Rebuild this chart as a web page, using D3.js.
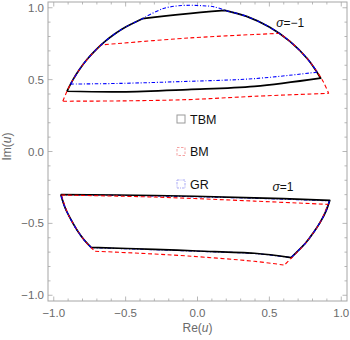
<!DOCTYPE html>
<html><head><meta charset="utf-8">
<script src="https://cdn.jsdelivr.net/npm/d3@7"></script>
<style>
html,body{margin:0;padding:0;background:#fff;}
svg{display:block;font-family:"Liberation Sans",Arial,sans-serif;}
</style></head>
<body>
<svg id="c" width="350" height="340"></svg>
<script>
// ---- data ----
const categories = ["TBM", "BM", "GR"];
const regionLabels = ["σ=−1", "σ=1"];
const regionLabelPos = [[0.548, 0.868], [0.522, -0.278]];
const majorTicks = [-1, -0.5, 0, 0.5, 1];
const tickLabels = ["−1.0", "−0.5", "0.0", "0.5", "1.0"];
const minorTicks = [-1,-0.9,-0.8,-0.7,-0.6,-0.5,-0.4,-0.3,-0.2,-0.1,0,0.1,0.2,0.3,0.4,0.5,0.6,0.7,0.8,0.9,1];

// upper region (sigma = -1): segments of the boundary
const tbmUpper = [
  [[-0.908,0.419],[-0.866,0.500],[-0.819,0.574],[-0.766,0.643],[-0.707,0.707],[-0.643,0.766],[-0.574,0.819],[-0.500,0.866],[-0.383,0.924]],
  [[-0.383,0.924],[-0.100,0.956],[0.190,0.982]],
  [[0.190,0.982],[0.342,0.940],[0.500,0.866],[0.643,0.766],[0.766,0.643],[0.857,0.510]],
  [[0.857,0.510],[0.396,0.453],[-0.067,0.431],[-0.530,0.415],[-0.908,0.419]]
];
const bmUpper = [
  [[-0.937,0.350],[-0.906,0.423],[-0.866,0.500],[-0.819,0.574],[-0.766,0.643],[-0.672,0.741]],
  [[-0.672,0.741],[-0.056,0.790],[0.569,0.822]],
  [[0.569,0.822],[0.643,0.766],[0.743,0.669],[0.819,0.574],[0.875,0.485],[0.912,0.405]],
  [[0.912,0.405],[0.396,0.384],[-0.067,0.361],[-0.530,0.352],[-0.937,0.350]]
];
const grUpper = [
  [[-0.883,0.469],[-0.819,0.574],[-0.766,0.643],[-0.707,0.707],[-0.643,0.766],[-0.574,0.819],[-0.500,0.866],[-0.383,0.924]],
  [[-0.383,0.924],[-0.243,0.993],[-0.148,1.012],[-0.056,1.017],[0.037,1.014],[0.118,1.006],[0.190,0.982]],
  [[0.190,0.982],[0.342,0.940],[0.500,0.866],[0.643,0.766],[0.766,0.643],[0.834,0.552]],
  [[0.834,0.552],[0.396,0.507],[-0.067,0.488],[-0.530,0.474],[-0.883,0.469]]
];
// lower region (sigma = 1)
const tbmLower = [
  [[-0.951,-0.299],[-0.299,-0.306],[0.396,-0.322],[0.920,-0.340]],
  [[0.920,-0.340],[0.893,-0.416],[0.853,-0.493],[0.806,-0.565],[0.755,-0.633],[0.651,-0.738]],
  [[0.651,-0.738],[0.396,-0.708],[0.000,-0.692],[-0.299,-0.681],[-0.740,-0.667]],
  [[-0.740,-0.667],[-0.788,-0.616],[-0.839,-0.545],[-0.883,-0.469],[-0.921,-0.391],[-0.951,-0.299]]
];
const bmLower = [
  [[-0.947,-0.303],[-0.299,-0.317],[0.396,-0.345],[0.908,-0.368]],
  [[0.908,-0.368],[0.853,-0.493],[0.776,-0.606],[0.697,-0.697],[0.604,-0.790]],
  [[0.604,-0.790],[0.396,-0.764],[-0.067,-0.727],[-0.400,-0.708],[-0.712,-0.694]],
  [[-0.712,-0.694],[-0.766,-0.643],[-0.819,-0.574],[-0.866,-0.500],[-0.906,-0.423],[-0.947,-0.303]]
];
const grLower = [
  [[-0.951,-0.301],[-0.299,-0.309],[0.396,-0.325],[0.918,-0.343]],
  [[0.918,-0.343],[0.893,-0.416],[0.853,-0.493],[0.806,-0.565],[0.755,-0.633],[0.651,-0.738]],
  [[0.651,-0.738],[0.396,-0.710],[0.000,-0.694],[-0.299,-0.683],[-0.740,-0.669]],
  [[-0.740,-0.669],[-0.788,-0.616],[-0.839,-0.545],[-0.883,-0.469],[-0.921,-0.391],[-0.951,-0.301]]
];

// ---- chart ----
const svg = d3.select("#c");
const X0 = 48, X1 = 347, Y0 = 2, Y1 = 301;
const x = d3.scaleLinear().domain([-1.04, 1.04]).range([X0, X1]);
const y = d3.scaleLinear().domain([-1.04, 1.04]).range([Y1, Y0]);

const styles = {
  TBM: {stroke: "#000", width: 1.7, dash: null},
  BM:  {stroke: "#ff0000", width: 1.1, dash: "4,2.6"},
  GR:  {stroke: "#0000ff", width: 1.1, dash: "3.5,1.8,1,1.8"}
};

const seg = d3.line().x(d => x(d[0])).y(d => y(d[1])).curve(d3.curveCatmullRom.alpha(0.5));
function boundaryPath(segments) {
  return segments.map((s, i) => {
    const p = seg(s);
    return i === 0 ? p : "L" + p.slice(1);
  }).join("");
}

// frame
const frameCol = "#a6a6a6";
svg.append("rect").attr("x", X0).attr("y", Y0).attr("width", X1 - X0).attr("height", Y1 - Y0)
  .attr("fill", "none").attr("stroke", frameCol).attr("stroke-width", 1);

const tg = svg.append("g").attr("stroke", frameCol).attr("stroke-width", 0.8);
minorTicks.forEach(t => {
  const major = majorTicks.some(m => Math.abs(m - t) < 1e-9);
  const L = major ? 4.5 : 2.5;
  tg.append("line").attr("x1", x(t)).attr("x2", x(t)).attr("y1", Y1).attr("y2", Y1 - L);
  tg.append("line").attr("x1", x(t)).attr("x2", x(t)).attr("y1", Y0).attr("y2", Y0 + L);
  tg.append("line").attr("y1", y(t)).attr("y2", y(t)).attr("x1", X0).attr("x2", X0 + L);
  tg.append("line").attr("y1", y(t)).attr("y2", y(t)).attr("x1", X1).attr("x2", X1 - L);
});

const labCol = "#6a6a6a";
majorTicks.forEach((t, i) => {
  svg.append("text").attr("x", x(t)).attr("y", Y1 + 16).attr("text-anchor", "middle")
    .attr("font-size", 11.5).attr("fill", labCol).text(tickLabels[i]);
  svg.append("text").attr("x", X0 - 4).attr("y", y(t) + 4).attr("text-anchor", "end")
    .attr("font-size", 11.5).attr("fill", labCol).text(tickLabels[i]);
});

// axis labels
const xl = svg.append("text").attr("x", (X0 + X1) / 2).attr("y", 332).attr("text-anchor", "middle")
  .attr("font-size", 12).attr("fill", labCol);
xl.append("tspan").text("Re(");
xl.append("tspan").attr("font-style", "italic").text("u");
xl.append("tspan").text(")");
const yl = svg.append("text").attr("transform", `translate(11,${(Y0 + Y1) / 2 - 5}) rotate(-90)`)
  .attr("text-anchor", "middle").attr("font-size", 12).attr("fill", labCol);
yl.append("tspan").text("Im(");
yl.append("tspan").attr("font-style", "italic").text("u");
yl.append("tspan").text(")");

// curves
const cg = svg.append("g").attr("fill", "none");
function drawPath(segments, name) {
  const st = styles[name];
  const p = cg.append("path").attr("d", boundaryPath(segments))
    .attr("stroke", st.stroke).attr("stroke-width", st.width)
    .attr("stroke-linejoin", "round");
  if (st.dash) p.attr("stroke-dasharray", st.dash);
}
// the GR boundary of the lower region lies under the TBM one along its straight edges
drawPath(grLower, "GR");
drawPath(tbmUpper, "TBM");
drawPath(tbmLower, "TBM");
drawPath(bmUpper, "BM");
drawPath(bmLower, "BM");
drawPath(grUpper, "GR");
// arcs of the lower GR boundary show on top of TBM
drawPath([grLower[1]], "GR");
drawPath([grLower[3]], "GR");

// region labels
regionLabels.forEach((lab, i) => {
  const t = svg.append("text").attr("x", x(regionLabelPos[i][0])).attr("y", y(regionLabelPos[i][1]))
    .attr("font-size", 12).attr("fill", "#111");
  t.append("tspan").attr("font-style", "italic").text("σ");
  t.append("tspan").text(lab.slice(1));
});

// legend
const legStyles = {
  TBM: {stroke: "#9a9a9a", dash: null},
  BM: {stroke: "#f4a3a3", dash: "2.5,1.5"},
  GR: {stroke: "#a9a9f4", dash: "2.5,1,1,1"}
};
const lg = svg.append("g");
categories.forEach((c, i) => {
  const cy = 119 + i * 32.5;
  const r = lg.append("rect").attr("x", 177).attr("y", cy - 4).attr("width", 8).attr("height", 8)
    .attr("fill", "none").attr("stroke", legStyles[c].stroke).attr("stroke-width", 1);
  if (legStyles[c].dash) r.attr("stroke-dasharray", legStyles[c].dash);
  lg.append("text").attr("x", 190).attr("y", cy + 4.5).attr("font-size", 12.5).attr("fill", "#111").text(c);
});
</script>
</body></html>
